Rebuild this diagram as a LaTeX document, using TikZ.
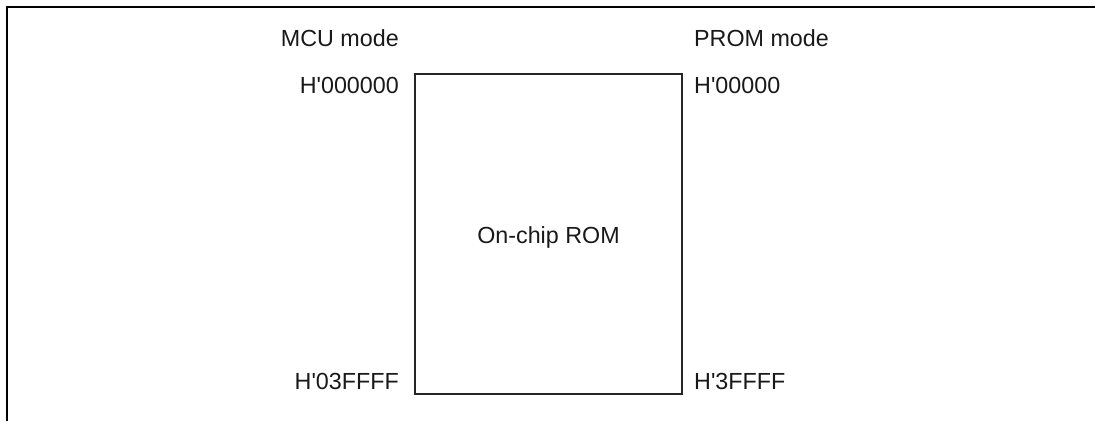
\documentclass[tikz,border=0pt]{standalone}
\usepackage{fontspec}
\setmainfont{Liberation Sans}
\begin{document}
\begin{tikzpicture}[x=1pt,y=-1pt,
  lbl/.style={inner sep=0pt,font=\fontsize{23.3}{26}\selectfont,text=black!90},
  frameline/.style={line width=2.2pt,black},
  rombox/.style={draw=black!85,line width=1.1pt}]
\useasboundingbox (0,0) rectangle (1095,421);
% frame
\coordinate (fa) at (7,421);
\coordinate (fb) at (7,7);
\coordinate (fc) at (1095,7);
\draw[frameline] (fa) -- (fb) -- (fc);
% ROM box
\draw[rombox] (415,74) rectangle (682,394);
\node[lbl,anchor=base] (rom) at (548.5,243) {On-chip ROM};
% headings
\node[lbl,anchor=base east] (mcu) at (399,46) {MCU mode};
\node[lbl,anchor=base west] (prom) at (694,46) {PROM mode};
% addresses
\node[lbl,anchor=base east] (a1) at (399,93) {H\textquotesingle000000};
\node[lbl,anchor=base east] (a2) at (399,389) {H\textquotesingle03FFFF};
\node[lbl,anchor=base west] (b1) at (694,93) {H\textquotesingle00000};
\node[lbl,anchor=base west] (b2) at (694,389) {H\textquotesingle3FFFF};
\end{tikzpicture}
\end{document}
